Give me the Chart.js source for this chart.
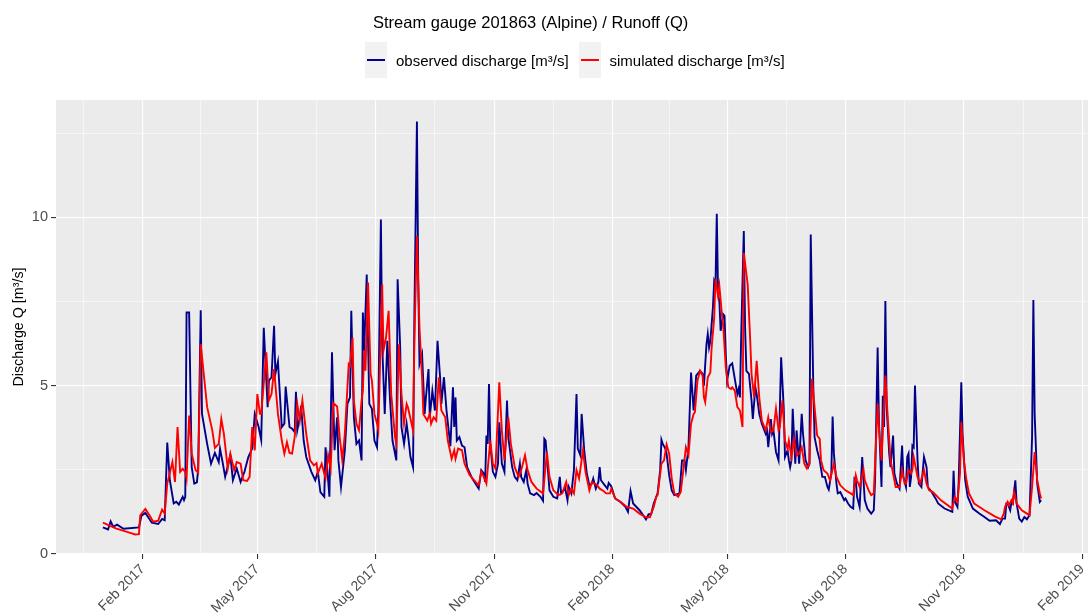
<!DOCTYPE html>
<html>
<head>
<meta charset="utf-8">
<script src="https://cdn.jsdelivr.net/npm/chart.js@4.4.1/dist/chart.umd.min.js"></script>
<style>
  html, body { margin: 0; padding: 0; background: #ffffff; }
  #wrap { width: 1088px; height: 614px; position: relative; }
</style>
</head>
<body>
<div id="wrap"><canvas id="chart" width="1088" height="614"></canvas></div>
<script>
// Daily discharge record, days counted from START_DATE
const START_DATE = '2017-01-01';

const obsDay = [0,4,6,8,11,16,28,30,33,38,43,46,48,50,52,55,57,59,62,63,64,65,67,69,71,73,74,76,77,81,84,87,90,91,93,95,99,101,104,107,110,113,116,118,121,123,125,128,129,131,133,134,136,139,141,142,145,147,149,150,151,153,154,156,158,162,165,167,169,172,173,175,176,178,180,182,183,185,188,190,192,193,195,197,199,201,202,203,205,207,209,211,213,214,216,217,219,221,223,225,228,229,231,232,234,236,237,239,241,242,244,245,246,248,250,251,253,254,256,258,260,262,263,265,267,270,272,273,274,275,277,279,281,283,287,292,294,296,297,298,299,300,301,303,305,307,308,310,312,314,315,318,320,322,324,325,327,329,330,332,335,337,340,342,343,344,346,347,350,353,355,356,358,359,361,362,364,366,368,369,371,372,374,376,378,380,381,383,385,386,387,390,392,393,395,398,402,406,408,410,412,417,422,424,426,428,430,431,433,434,435,437,438,440,442,444,448,450,452,453,455,457,459,460,461,464,466,467,469,470,471,472,474,475,476,477,478,479,480,482,483,484,485,487,489,491,493,494,495,496,498,499,500,502,504,505,507,508,510,512,515,516,517,519,520,521,523,525,527,529,530,532,533,534,535,536,538,539,541,543,544,546,548,549,550,552,553,555,557,559,561,563,564,566,567,568,570,571,573,576,577,579,581,583,584,585,586,588,590,591,592,594,597,599,600,602,603,605,606,607,608,609,611,612,614,615,617,619,621,622,624,625,626,627,628,629,630,631,633,634,636,638,640,641,644,647,649,654,660,661,662,664,665,667,668,670,672,676,681,685,689,694,697,699,701,702,703,705,706,707,709,710,712,714,716,718,720,722,723,724,726,728,729];
const obsQ = [0.79,0.73,0.97,0.81,0.87,0.75,0.79,1.14,1.22,0.93,0.89,1.04,1.00,3.31,2.19,1.50,1.55,1.47,1.70,1.60,1.70,7.17,7.17,2.58,2.09,2.13,2.49,7.24,4.16,3.27,2.68,3.00,2.73,3.13,2.73,2.29,2.93,2.19,2.54,2.14,2.44,2.88,3.13,4.16,3.77,3.39,6.72,4.36,5.15,5.25,6.78,5.35,5.72,3.77,3.87,4.97,3.77,3.72,3.62,4.82,3.67,4.06,4.41,3.37,2.88,2.44,2.19,2.44,1.84,1.70,3.17,2.19,1.70,5.99,3.08,4.06,2.78,1.99,3.08,4.46,4.65,7.22,4.06,3.27,3.37,2.78,7.17,6.04,8.30,4.46,4.31,3.37,3.17,4.26,9.93,6.23,4.16,6.33,4.65,3.37,2.78,8.16,6.13,3.77,3.27,3.87,3.57,2.88,2.58,7.02,12.84,8.20,5.64,5.94,4.16,4.65,5.49,4.06,4.85,4.26,6.33,5.25,4.46,5.25,4.26,3.20,4.95,3.77,4.65,3.37,3.47,3.22,3.17,2.58,2.24,1.94,2.49,2.39,2.14,3.52,3.27,5.05,3.27,2.44,2.29,2.68,3.91,2.68,2.44,4.56,3.47,2.58,2.29,2.19,2.68,2.29,2.14,2.49,2.09,1.80,1.75,1.81,1.70,1.58,3.42,3.37,2.39,1.89,1.70,1.65,2.29,1.80,1.89,1.99,1.60,1.99,1.80,2.49,4.75,3.13,2.93,4.16,3.08,2.39,2.04,2.09,2.24,1.94,2.14,2.58,2.19,2.04,1.94,2.11,2.01,1.65,1.55,1.40,1.25,1.87,1.50,1.30,1.03,1.18,1.18,1.50,1.70,1.80,2.49,3.39,3.27,3.13,2.98,2.34,1.89,1.75,1.80,2.78,2.78,2.49,3.17,5.39,4.26,4.75,5.30,5.44,5.35,5.00,6.23,6.53,6.13,6.33,7.32,8.11,8.01,10.10,7.71,7.51,6.63,7.12,7.07,5.94,5.15,5.59,5.66,5.20,4.75,4.90,4.65,6.53,9.59,6.72,5.44,5.35,4.56,4.01,4.95,4.75,4.16,3.87,3.57,3.67,3.17,4.01,3.57,3.67,3.03,2.78,5.84,4.36,2.88,3.08,2.78,2.58,2.78,4.31,2.68,3.67,2.68,4.16,3.57,2.78,2.58,2.68,9.49,4.95,3.47,3.08,2.78,2.29,2.29,1.99,1.91,2.39,4.08,2.98,2.09,1.80,1.84,1.60,1.65,1.50,1.40,1.35,2.24,2.19,1.70,1.40,2.88,2.19,1.60,1.35,1.20,1.30,2.19,6.13,3.96,1.99,4.70,3.77,7.51,4.36,2.98,2.58,3.52,2.39,2.09,1.94,3.22,2.29,1.99,2.88,2.98,1.99,2.29,3.22,3.17,5.00,2.78,2.09,1.99,2.88,2.58,1.99,1.84,1.65,1.50,1.35,1.25,2.47,1.55,1.40,2.19,5.10,3.57,2.19,1.70,1.35,1.20,1.10,0.99,1.00,0.89,1.05,1.05,1.50,1.50,1.30,1.55,1.50,2.19,1.50,1.05,0.96,1.10,1.03,1.15,3.47,7.54,4.16,2.09,1.55,1.60];

const simDay = [0,10,20,25,28,29,33,37,39,43,46,48,50,54,56,58,60,62,64,65,67,69,72,74,76,81,85,87,90,92,94,97,99,102,104,107,109,112,114,116,118,120,122,123,127,129,131,133,136,139,141,143,145,147,149,151,153,155,158,161,164,166,167,170,173,175,177,179,182,184,186,188,191,192,194,195,197,199,201,202,203,204,206,208,209,211,213,214,217,218,220,222,224,227,228,230,232,234,236,237,241,242,244,246,248,249,252,254,255,257,259,261,263,266,268,271,273,274,276,279,281,285,292,294,296,298,301,303,305,308,310,312,315,317,320,323,325,328,330,333,337,342,345,347,350,354,357,360,362,364,366,368,370,373,375,378,380,384,386,389,391,394,395,398,402,407,412,417,422,425,428,430,431,434,436,438,440,442,444,447,449,451,453,455,457,459,460,462,464,466,467,468,470,472,473,475,476,478,479,481,482,484,486,488,489,491,493,495,497,498,501,503,504,506,508,510,512,515,517,519,521,523,525,526,528,530,532,533,535,537,539,541,543,545,547,549,551,553,555,557,558,560,563,565,568,570,573,577,581,583,585,586,588,591,592,595,597,599,602,603,605,608,610,612,614,616,619,621,623,624,626,628,629,630,633,635,638,640,642,645,651,660,662,664,666,667,669,671,673,677,685,693,698,700,701,703,704,706,707,708,710,714,718,720,722,724,726,728,729];
const simQ = [0.93,0.76,0.64,0.58,0.59,1.15,1.34,1.10,0.96,0.99,1.32,1.20,2.09,2.73,2.14,3.77,2.44,2.53,2.44,2.24,4.11,2.98,2.49,2.41,6.23,4.36,3.67,3.15,3.27,4.01,3.57,2.54,2.98,2.49,2.73,2.68,2.19,2.17,2.29,3.77,3.08,4.75,4.16,4.16,5.99,4.56,4.75,5.49,4.16,3.37,2.98,3.32,3.00,2.98,3.47,4.46,3.96,4.56,3.57,2.78,2.63,2.70,2.39,2.68,2.24,2.93,2.54,4.48,4.38,3.47,2.78,3.57,5.64,5.59,6.43,4.56,3.87,3.67,4.56,4.85,6.04,5.44,8.06,5.35,5.15,4.16,3.87,3.67,8.01,6.04,6.43,7.22,4.75,3.47,3.27,6.23,4.75,3.87,4.46,4.36,3.67,6.23,9.44,6.72,5.25,4.16,3.96,4.16,3.87,4.06,3.96,5.25,4.26,4.06,3.37,2.83,3.08,2.83,3.13,3.08,2.68,2.34,2.04,2.44,2.29,2.09,3.37,2.68,2.54,5.10,3.67,2.78,4.06,3.27,2.58,2.29,2.49,2.93,2.49,2.14,1.94,1.80,3.03,2.29,1.89,1.75,1.80,2.14,1.75,1.94,1.80,2.49,2.24,3.08,2.44,1.89,2.14,2.04,1.94,1.87,1.80,1.80,1.94,1.65,1.55,1.40,1.35,1.20,1.09,1.09,1.40,1.70,1.75,2.68,2.78,3.25,2.98,2.24,1.80,1.70,1.84,2.49,3.17,2.93,3.87,4.16,4.21,5.15,5.44,5.30,4.65,4.51,5.25,5.39,6.13,7.02,8.16,7.66,7.96,7.12,6.78,5.54,4.95,4.90,4.95,4.85,4.36,4.26,3.77,8.94,8.01,6.33,5.35,4.65,5.74,4.65,3.96,3.67,4.06,3.62,3.67,4.31,3.67,3.77,4.56,3.37,3.13,3.37,2.88,3.42,2.93,2.98,3.17,2.68,2.54,2.68,5.20,4.36,3.52,3.42,2.78,2.49,2.39,2.19,2.68,2.29,2.04,1.89,1.80,1.75,2.34,2.19,1.99,2.51,2.19,1.89,1.75,1.80,4.46,3.77,2.78,5.30,3.96,2.78,2.39,1.99,1.99,2.49,2.09,2.09,2.49,2.39,2.49,2.88,2.29,2.09,2.49,2.09,1.89,1.84,1.60,1.35,1.70,1.55,2.39,3.91,2.78,2.19,1.80,1.50,1.30,1.12,1.03,1.20,1.40,1.55,1.45,1.60,1.52,1.84,1.50,1.30,1.20,1.15,1.99,3.03,2.19,1.80,1.65];

// Axis breaks
const majorBreakDates = ['2016-11-01','2017-02-01','2017-05-01','2017-08-01','2017-11-01','2018-02-01','2018-05-01','2018-08-01','2018-11-01','2019-02-01'];
const majorBreakLabels = ['Nov 2016','Feb 2017','May 2017','Aug 2017','Nov 2017','Feb 2018','May 2018','Aug 2018','Nov 2018','Feb 2019'];
const yMajorBreaks = [0, 5, 10];
const yMinorBreaks = [2.5, 7.5, 12.5];

const TITLE = 'Stream gauge 201863 (Alpine) / Runoff (Q)';
const SERIES_NAMES = ['observed discharge [m\u00b3/s]', 'simulated discharge [m\u00b3/s]'];
const SERIES_COLORS = ['#00008B', '#FF0000'];

const FONT = '"Liberation Sans", Arial, Helvetica, sans-serif';
const DAY_MS = 86400000;
const dayOf = s => (Date.parse(s + 'T00:00:00Z') - Date.parse(START_DATE + 'T00:00:00Z')) / DAY_MS;

// x range padded by 5% of the record span on both sides
const lastDay = Math.max(obsDay[obsDay.length - 1], simDay[simDay.length - 1]);
const xPad = 0.05 * lastDay;
const xMin = -xPad, xMax = lastDay + xPad;
const yTop = Math.max(...obsQ, ...simQ) * 1.05;

const majorDays = majorBreakDates.map(dayOf);
const xTicks = [];
majorDays.forEach((d, i) => {
  xTicks.push({ value: d, major: true, label: majorBreakLabels[i] });
  if (i + 1 < majorDays.length) xTicks.push({ value: (d + majorDays[i + 1]) / 2, major: false, label: '' });
});
const xTicksInRange = xTicks.filter(t => t.value >= xMin && t.value <= xMax).sort((a, b) => a.value - b.value);
const yTicks = [...yMajorBreaks.map(v => ({ value: v, major: true })), ...yMinorBreaks.map(v => ({ value: v, major: false }))]
  .filter(t => t.value <= yTop).sort((a, b) => a.value - b.value);

const toPoints = (xs, ys) => xs.map((x, i) => ({ x: x, y: ys[i] }));

// Grey panel behind the grid
const panelBackground = {
  id: 'panelBackground',
  beforeDraw(chart) {
    const { ctx, chartArea: a } = chart;
    ctx.save();
    ctx.fillStyle = '#EBEBEB';
    ctx.fillRect(a.left, a.top, a.right - a.left, a.bottom - a.top);
    ctx.restore();
  }
};

// Title and legend above the panel
const headerBlock = {
  id: 'headerBlock',
  afterDraw(chart) {
    const ctx = chart.ctx;
    ctx.save();
    ctx.fillStyle = '#000000';
    ctx.textBaseline = 'alphabetic';
    ctx.textAlign = 'left';
    ctx.font = '16.5px ' + FONT;
    ctx.fillText(TITLE, 373, 27.5);

    ctx.font = '15px ' + FONT;
    const keys = [{ x: 365, tx: 396 }, { x: 579, tx: 609.5 }];
    keys.forEach((k, i) => {
      ctx.fillStyle = '#F2F2F2';
      ctx.fillRect(k.x, 42, 22, 36);
      ctx.strokeStyle = SERIES_COLORS[i];
      ctx.lineWidth = 2;
      ctx.beginPath();
      ctx.moveTo(k.x + 2, 60);
      ctx.lineTo(k.x + 20, 60);
      ctx.stroke();
      ctx.fillStyle = '#000000';
      ctx.fillText(SERIES_NAMES[i], k.tx, 66);
    });
    ctx.restore();
  }
};

const gridColor = '#FFFFFF';
const tickInk = '#4D4D4D';

new Chart(document.getElementById('chart'), {
  type: 'line',
  data: {
    datasets: [
      {
        label: SERIES_NAMES[0],
        data: toPoints(obsDay, obsQ),
        borderColor: SERIES_COLORS[0],
        backgroundColor: SERIES_COLORS[0],
        borderWidth: 1.9,
        pointRadius: 0,
        tension: 0,
        fill: false,
        order: 2
      },
      {
        label: SERIES_NAMES[1],
        data: toPoints(simDay, simQ),
        borderColor: SERIES_COLORS[1],
        backgroundColor: SERIES_COLORS[1],
        borderWidth: 1.9,
        pointRadius: 0,
        tension: 0,
        fill: false,
        order: 1
      }
    ]
  },
  options: {
    responsive: false,
    animation: false,
    events: [],
    layout: { padding: { top: 100, left: 0, right: 0, bottom: 0 } },
    plugins: {
      legend: { display: false },
      title: { display: false },
      tooltip: { enabled: false }
    },
    scales: {
      x: {
        type: 'linear',
        min: xMin,
        max: xMax,
        afterBuildTicks(scale) {
          scale.ticks = xTicksInRange.map(t => ({ value: t.value, major: t.major, label: t.label }));
        },
        afterFit(scale) {
          scale.height = 60;
          scale.paddingLeft = 0;
          scale.paddingRight = 0;
        },
        border: { display: false },
        grid: {
          drawOnChartArea: true,
          drawTicks: true,
          tickLength: 5,
          color: gridColor,
          lineWidth: ctx => (ctx.tick && ctx.tick.major ? 1.1 : 0.55),
          tickColor: ctx => (ctx.tick && ctx.tick.major ? '#333333' : 'rgba(0,0,0,0)'),
          tickWidth: 1.1
        },
        ticks: {
          autoSkip: false,
          minRotation: 45,
          maxRotation: 45,
          padding: 2,
          color: tickInk,
          font: { family: FONT, size: 14 },
          callback(value, index) {
            const t = xTicksInRange[index];
            return t ? t.label : '';
          }
        }
      },
      y: {
        type: 'linear',
        min: 0,
        max: yTop,
        afterBuildTicks(scale) {
          scale.ticks = yTicks.map(t => ({ value: t.value, major: t.major }));
        },
        afterFit(scale) {
          scale.width = 56;
          scale.paddingTop = 0;
          scale.paddingBottom = 0;
        },
        border: { display: false },
        grid: {
          drawOnChartArea: true,
          drawTicks: true,
          tickLength: 5,
          color: gridColor,
          lineWidth: ctx => (ctx.tick && ctx.tick.major ? 1.1 : 0.55),
          tickColor: ctx => (ctx.tick && ctx.tick.major ? '#333333' : 'rgba(0,0,0,0)'),
          tickWidth: 1.1
        },
        ticks: {
          autoSkip: false,
          padding: 3,
          color: tickInk,
          font: { family: FONT, size: 14.5 },
          callback(value, index) {
            const t = yTicks[index];
            return t && t.major ? String(t.value) : '';
          }
        },
        title: {
          display: true,
          text: 'Discharge Q [m\u00b3/s]',
          color: '#000000',
          font: { family: FONT, size: 14.3 },
          padding: { top: 10, bottom: 0 }
        }
      }
    }
  },
  plugins: [panelBackground, headerBlock]
});
</script>
</body>
</html>
